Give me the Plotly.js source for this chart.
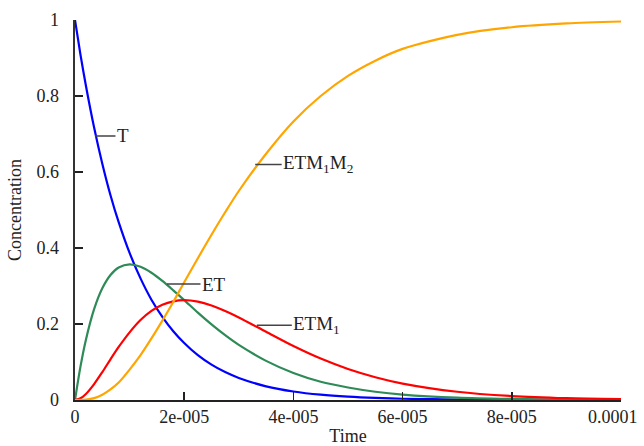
<!DOCTYPE html>
<html>
<head>
<meta charset="utf-8">
<script src="https://cdn.plot.ly/plotly-3.0.1.min.js"></script>
<style>
html,body{margin:0;padding:0;background:#fff;}
#chart{width:644px;height:446px;}
</style>
</head>
<body>
<div id="chart"></div>
<script>
// Time in seconds
var time = [0, 0.1e-5, 0.2e-5, 0.35e-5, 0.5e-5, 0.65e-5, 0.8e-5, 1e-5, 1.2e-5, 1.4e-5, 1.6e-5, 1.8e-5,
            2e-5, 2.25e-5, 2.5e-5, 2.75e-5, 3e-5, 3.5e-5, 4e-5, 4.5e-5, 5e-5, 5.5e-5, 6e-5,
            7e-5, 8e-5, 9e-5, 1e-4];
var T      = [1, 0.909, 0.827, 0.717, 0.622, 0.539, 0.468, 0.387, 0.320, 0.264, 0.219, 0.181,
              0.150, 0.118, 0.093, 0.0734, 0.058, 0.036, 0.0224, 0.0139, 0.0087, 0.0054, 0.0033,
              0.0013, 0.0005, 0.0002, 0.0001];
var ET     = [0, 0.0878, 0.1588, 0.2392, 0.294, 0.329, 0.3487, 0.357, 0.3506, 0.3349, 0.3133, 0.2886,
              0.263, 0.230, 0.199, 0.1705, 0.145, 0.103, 0.071, 0.048, 0.033, 0.0218, 0.0144,
              0.0062, 0.0027, 0.0011, 0.0005];
var ETM1   = [0, 0.0044, 0.0159, 0.0419, 0.0735, 0.107, 0.1395, 0.178, 0.2104, 0.2344, 0.2507, 0.2597,
              0.2626, 0.2588, 0.2488, 0.2344, 0.2173, 0.1795, 0.142, 0.109, 0.0817, 0.060, 0.0433,
              0.0217, 0.0104, 0.0048, 0.0022];
var ETM1M2 = [0, 0.0002, 0.001, 0.005, 0.014, 0.028, 0.046, 0.080, 0.118, 0.162, 0.209, 0.258,
              0.310, 0.373, 0.435, 0.494, 0.550, 0.648, 0.733, 0.800, 0.853, 0.893, 0.924,
              0.961, 0.981, 0.991, 0.996];

var xTickVals = [0, 2e-5, 4e-5, 6e-5, 8e-5, 1e-4];
var xTickText = ["0", "2e-005", "4e-005", "6e-005", "8e-005", "0.0001"];
var yTickVals = [0, 0.2, 0.4, 0.6, 0.8, 1];
var yTickText = ["0", "0.2", "0.4", "0.6", "0.8", "1"];

// Curve labels: point on the curve where the leader line starts, and label text
var labelNames = ["T", "ET", "ETM<sub>1</sub>", "ETM<sub>1</sub>M<sub>2</sub>"];
var labelX = [0.366e-5, 1.685e-5, 3.33e-5, 3.30e-5];
var labelY = [0.695, 0.305, 0.197, 0.62];

var FONT = "Liberation Serif, Times New Roman, serif";

var traces = [
  {x: time, y: T, name: "T", color: "#0000ff"},
  {x: time, y: ET, name: "ET", color: "#2e8b57"},
  {x: time, y: ETM1, name: "ETM1", color: "#ff0000"},
  {x: time, y: ETM1M2, name: "ETM1M2", color: "#ffa500"}
].map(function(s){
  return {x: s.x, y: s.y, name: s.name, type: "scatter", mode: "lines",
          line: {color: s.color, width: 2.2, shape: "spline", smoothing: 0.8}, hoverinfo: "skip"};
});

var axOffsets = [28, 47, 60, 63];
var annotations = labelNames.map(function(txt, i){
  return {x: labelX[i], y: labelY[i], xref: "x", yref: "y", text: txt,
          showarrow: true, arrowhead: 0, arrowwidth: 1.5, arrowcolor: "#444",
          ax: axOffsets[i], ay: 0, font: {family: FONT, size: 19, color: "#222"}};
});

// The last x tick label is pulled inward so it stays inside the page (as in the reference)
var lastIdx = xTickVals.length - 1;
var shownTickText = xTickText.map(function(t, i){ return i === lastIdx ? "" : t; });
annotations.push({
  x: xTickVals[lastIdx], y: 0, xref: "x", yref: "paper", text: xTickText[lastIdx],
  showarrow: false, xanchor: "right", yanchor: "top", xshift: 19, yshift: -5,
  font: {family: FONT, size: 18, color: "#222"}
});

var layout = {
  width: 644, height: 446,
  margin: {l: 75, r: 23, t: 20, b: 46, pad: 0},
  paper_bgcolor: "#fff", plot_bgcolor: "#fff",
  showlegend: false,
  font: {family: FONT, size: 18, color: "#222"},
  xaxis: {
    range: [0, 1e-4], tickvals: xTickVals, ticktext: shownTickText,
    ticks: "inside", ticklen: 8, tickwidth: 1.5, tickcolor: "#222",
    showline: true, linecolor: "#222", linewidth: 1.5,
    showgrid: false, zeroline: false,
    title: {text: "Time", font: {family: FONT, size: 18, color: "#222"}, standoff: 8},
    tickfont: {family: FONT, size: 18, color: "#222"}
  },
  yaxis: {
    range: [0, 1], tickvals: yTickVals, ticktext: yTickText,
    ticks: "inside", ticklen: 8, tickwidth: 1.5, tickcolor: "#222",
    showline: true, linecolor: "#333", linewidth: 2.5,
    showgrid: false, zeroline: false, ticklabelstandoff: 10,
    title: {text: "Concentration", font: {family: FONT, size: 18, color: "#222"}, standoff: 10},
    tickfont: {family: FONT, size: 18, color: "#222"}
  },
  annotations: annotations
};

Plotly.newPlot("chart", traces, layout, {displayModeBar: false, staticPlot: true});
</script>
</body>
</html>
